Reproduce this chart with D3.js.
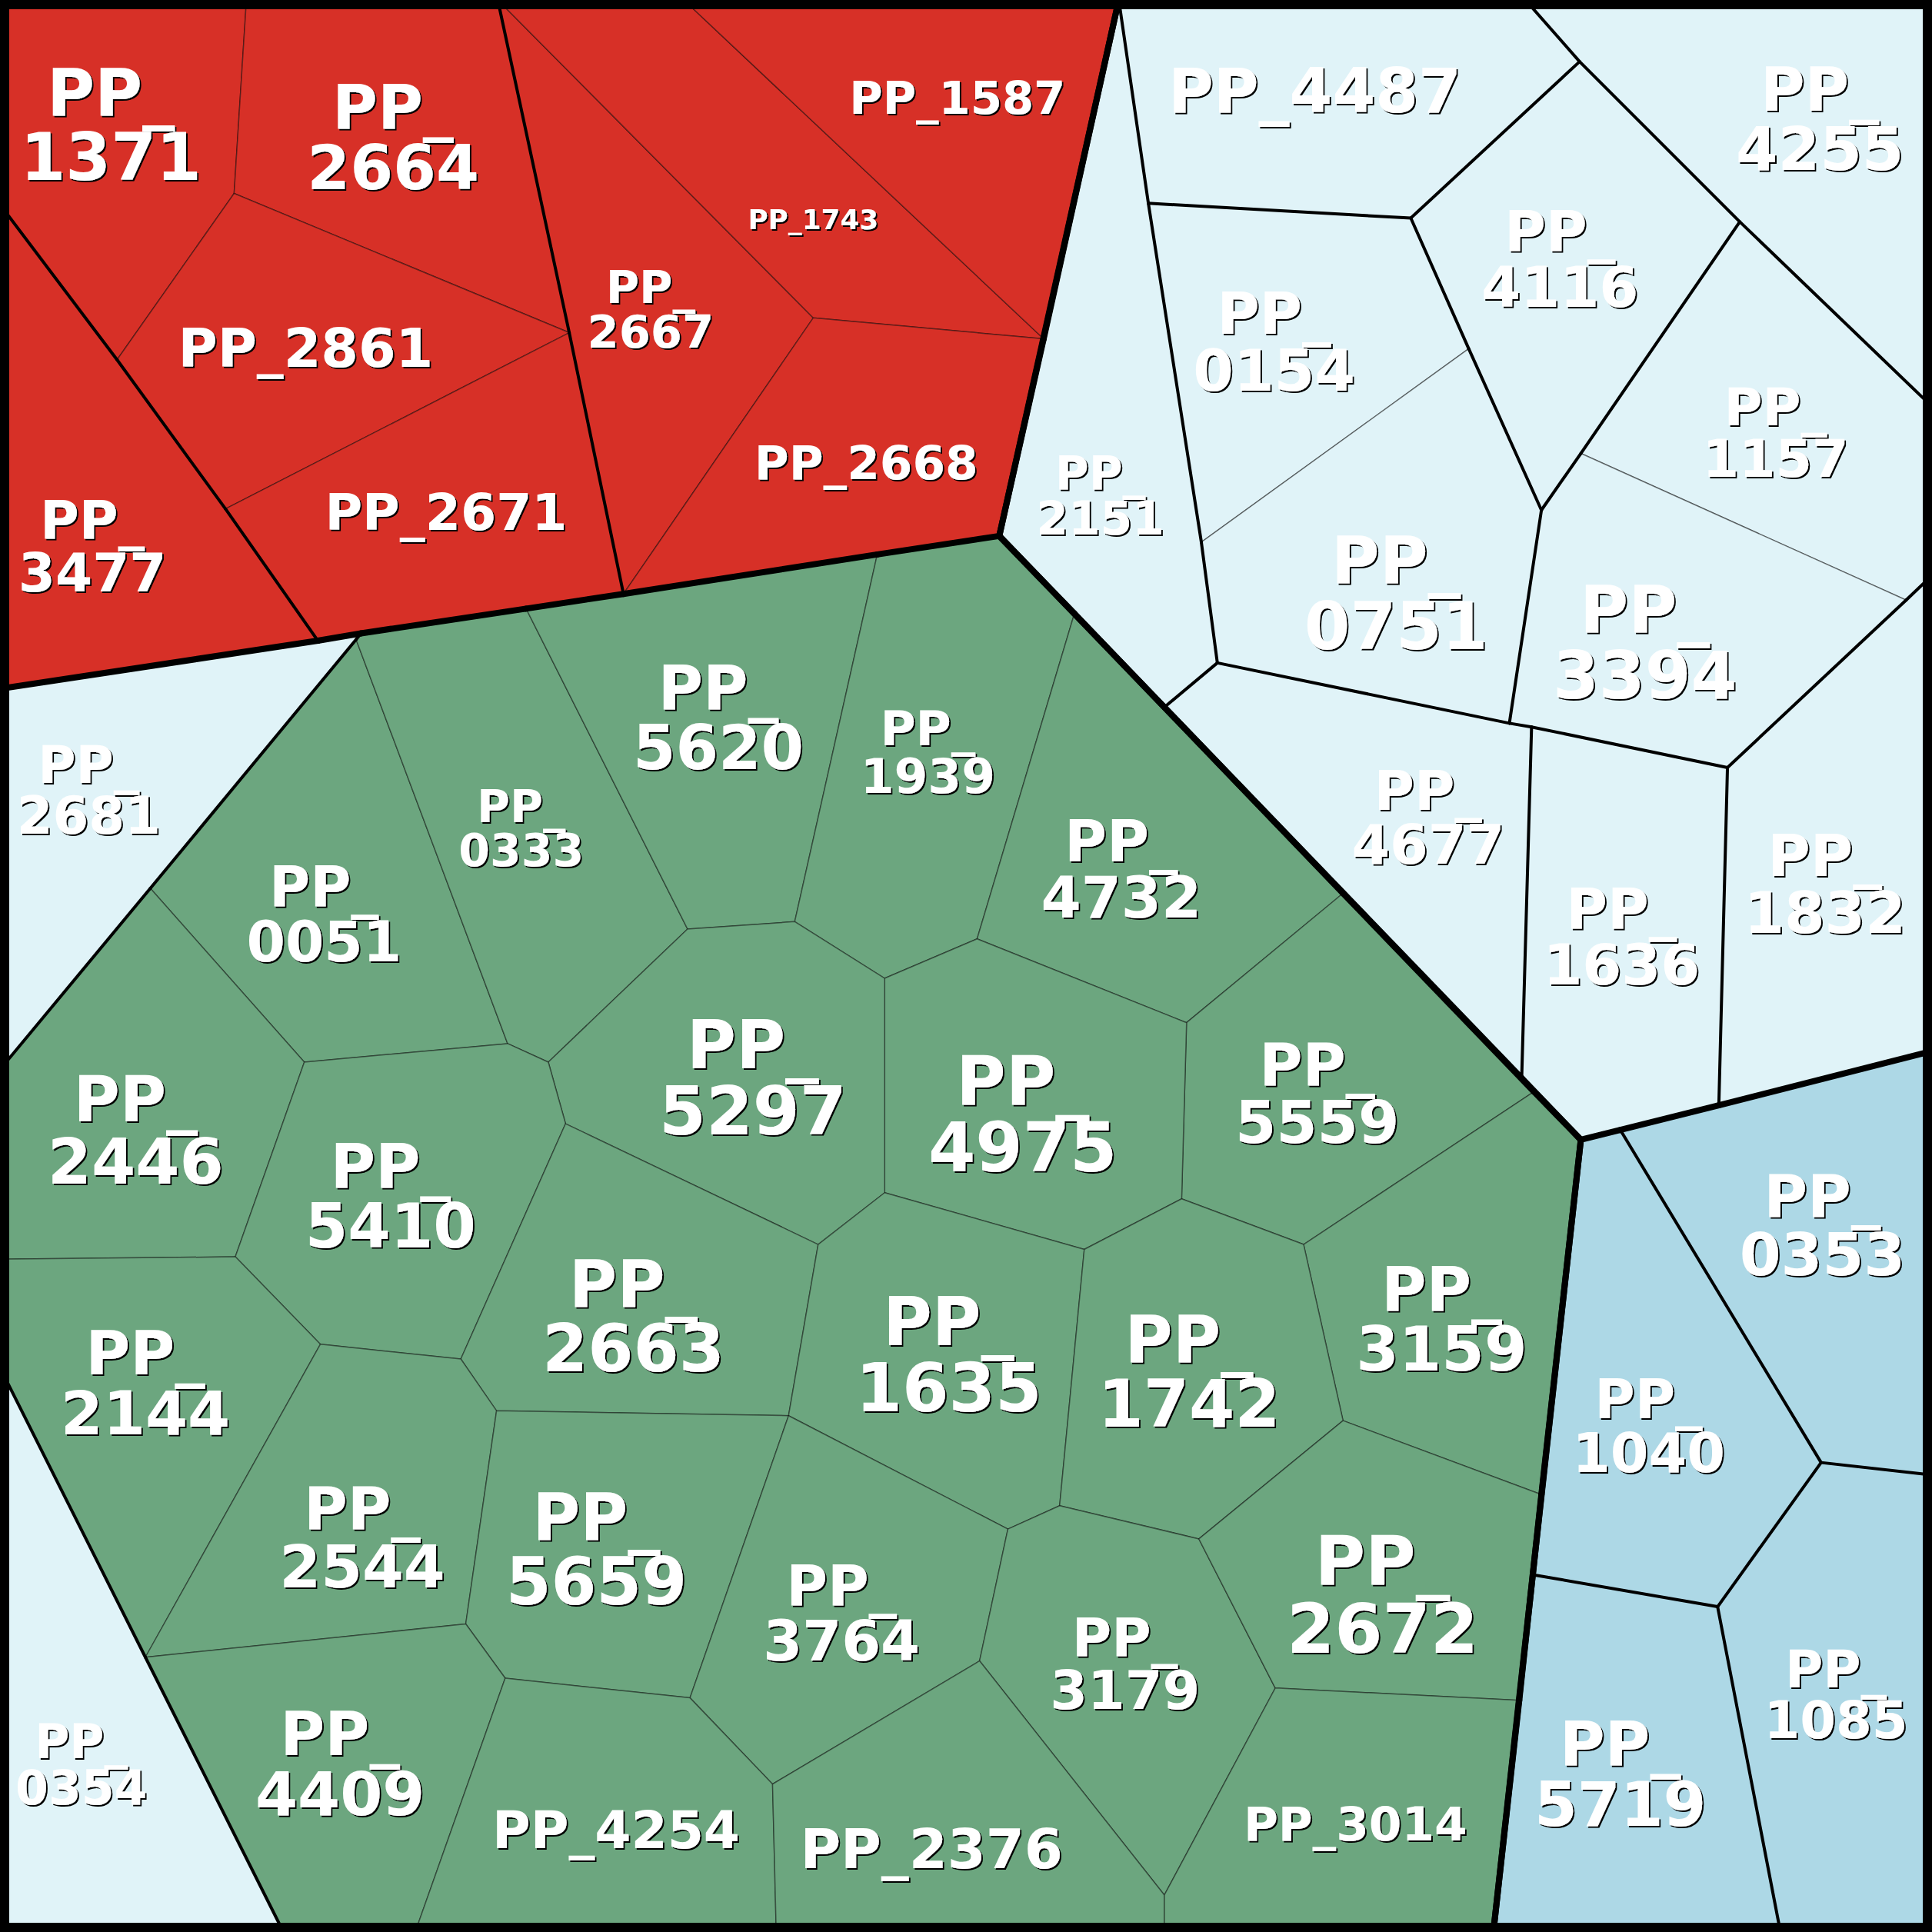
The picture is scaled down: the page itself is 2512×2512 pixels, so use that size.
<!DOCTYPE html>
<html>
<head>
<meta charset="utf-8">
<script src="https://cdn.jsdelivr.net/npm/d3@7"></script>
<style>
  body { margin: 0; background: #fff; }
  text { font-family: "DejaVu Sans", sans-serif; font-weight: bold; }
</style>
</head>
<body>
<svg id="chart" width="2512" height="2512"></svg>
<script>
// vertices of the voronoi treemap, in plot units (0..1568 both ways)
const nodes = {
  TL:[0,0], b:[200,0], c:[404,0], d:[555,0], e:[908,0], u:[1238,0], TR:[1568,0],
  x1:[1568,330], D:[1568,467], R3:[1568,853], O:[1568,1197], BR:[1568,1568],
  R:[1445,1568], B2:[1212,1568], B3:[945,1568], B4:[630,1568], B5:[337,1568], B6:[230,1568], BL:[0,1568],
  L1:[0,1110], L2:[0,1022], L3:[0,868], o:[0,559], a:[0,166],
  f:[190,157], g:[95,292], h:[462,270], i:[183,413], j:[258,520], k:[506,482],
  l:[660,258], m:[847,275], n:[811,435], p:[293,514], q:[427,494], r:[712,450],
  s:[932,165], t:[1145,177], v:[1282,50], w:[1412,180], y1:[1192,283], z:[975,440],
  A:[1251,414], B:[1283,368], C:[1547,487], E:[988,538], F:[945,574], G:[1225,587],
  H:[1243,590], I:[1402,623], J:[1235,875], K:[1283,925], L:[1315,917], M:[1395,897],
  N:[1478,1187], P:[1394,1304], Q:[1244,1278],
  pA:[289,519], S:[872,498], T:[1090,725], U:[1245,886], V:[122,721],
  W:[247,862], X:[412,847], Y:[445,862], Z:[558,754], AA:[645,748], AB:[718,794],
  AC:[793,762], AD:[963,830], AE:[959,973], AF:[1058,1010], AG:[1090,1153],
  AH:[1251,1213], AI:[973,1249], AJ:[1035,1370], AK:[1233,1380], AL:[945,1538],
  AM:[795,1348], AN:[818,1241], AO:[860,1222], AP:[880,1014], AQ:[718,968],
  AR:[664,1010], AS:[459,912], AT:[640,1149], AU:[403,1145], AV:[374,1103],
  AW:[260,1091], AX:[191,1020], AY:[378,1318], AZ:[410,1362], BA:[560,1378],
  BB:[627,1448], BC:[118,1345]
};

// each cell: its generator site, its value and its ring of vertices
const redCells = [
  {id:"PP_1371", sub:"r2", value:71.6, site:[90,101],  ring:["TL","b","f","g","a"]},
  {id:"PP_2664", sub:"r2", value:64.5, site:[319,111], ring:["b","c","h","f"]},
  {id:"PP_2861", sub:"r2", value:48.8, site:[248,282], ring:["g","f","h","i"]},
  {id:"PP_2671", sub:"r2", value:44.0, site:[362,415], ring:["i","h","k","q","p","j"]},
  {id:"PP_3477", sub:"r1", value:48.0, site:[75,443],  ring:["a","g","i","j","o"]},
  {id:"PP_2667", sub:"r3", value:35.0, site:[528,251], ring:["c","l","k","h"]},
  {id:"PP_1743", sub:"r3", value:12.8, site:[660,178], ring:["c","d","m","l"]},
  {id:"PP_1587", sub:"r3", value:35.0, site:[777,79],  ring:["d","e","m"]},
  {id:"PP_2668", sub:"r3", value:37.5, site:[703,375], ring:["l","m","n","r","k"]}
];

const greenCells = [
  {id:"PP_2681", sub:"g1", cat:"pale", value:45.2, site:[72,641],   ring:["o","j","p","pA","V","L3"]},
  {id:"PP_0354", sub:"g2", cat:"pale", value:37.9, site:[66,1432],  ring:["L1","BC","B6","BL"]},
  {id:"PP_0051", sub:"g3", value:52.6, site:[263,742],  ring:["pA","X","W","V"]},
  {id:"PP_0333", sub:"g3", value:34.3, site:[423,672],  ring:["p","q","Z","Y","X","pA"]},
  {id:"PP_5620", sub:"g3", value:63.7, site:[583,582],  ring:["q","k","r","AA","Z"]},
  {id:"PP_1939", sub:"g3", value:39.7, site:[753,610],  ring:["r","n","S","AC","AB","AA"]},
  {id:"PP_4732", sub:"g3", value:56.3, site:[910,705],  ring:["S","T","AD","AC"]},
  {id:"PP_5559", sub:"g3", value:58.8, site:[1069,887], ring:["T","U","AF","AE","AD"]},
  {id:"PP_3159", sub:"g3", value:63.7, site:[1170,1070], ring:["U","K","AH","AG","AF"]},
  {id:"PP_4975", sub:"g3", value:77.8, site:[830,904],  ring:["AB","AC","AD","AE","AP","AQ"]},
  {id:"PP_5297", sub:"g3", value:76.7, site:[611,874],  ring:["Z","AA","AB","AQ","AR","AS","Y"]},
  {id:"PP_2446", sub:"g3", value:67.6, site:[110,917],  ring:["L3","V","W","AX","L2"]},
  {id:"PP_5410", sub:"g3", value:63.7, site:[317,970],  ring:["W","X","Y","AS","AV","AW","AX"]},
  {id:"PP_2144", sub:"g3", value:62.7, site:[118,1122], ring:["L2","AX","AW","BC","L1"]},
  {id:"PP_2663", sub:"g3", value:72.4, site:[514,1068], ring:["AS","AR","AT","AU","AV"]},
  {id:"PP_1635", sub:"g3", value:75.7, site:[770,1099], ring:["AR","AQ","AP","AO","AN","AT"]},
  {id:"PP_1742", sub:"g3", value:72.4, site:[965,1113], ring:["AP","AE","AF","AG","AI","AO"]},
  {id:"PP_2544", sub:"g3", value:59.9, site:[294,1247], ring:["AW","AV","AU","AY","BC"]},
  {id:"PP_5659", sub:"g3", value:71.6, site:[484,1257], ring:["AU","AT","BA","AZ","AY"]},
  {id:"PP_3764", sub:"g3", value:53.6, site:[683,1309], ring:["AT","AN","AM","BB","BA"]},
  {id:"PP_3179", sub:"g3", value:49.1, site:[913,1350], ring:["AN","AO","AI","AJ","AL","AM"]},
  {id:"PP_2672", sub:"g3", value:80.1, site:[1122,1294], ring:["AG","AH","AK","AJ","AI"]},
  {id:"PP_4409", sub:"g3", value:62.7, site:[276,1431], ring:["BC","AY","AZ","B5","B6"]},
  {id:"PP_4254", sub:"g3", value:46.0, site:[500,1485], ring:["AZ","BA","BB","B4","B5"]},
  {id:"PP_2376", sub:"g3", value:51.7, site:[756,1500], ring:["BB","AM","AL","B3","B4"]},
  {id:"PP_3014", sub:"g3", value:37.5, site:[1100,1480], ring:["AJ","AK","B2","B3","AL"]}
];

const paleCells = [
  {id:"PP_4487", sub:"p1", value:64.3, site:[1067,73],  ring:["e","u","v","t","s"]},
  {id:"PP_4255", sub:"p2", value:61.6, site:[1477,96],  ring:["u","TR","x1","w","v"]},
  {id:"PP_4116", sub:"p3", value:54.0, site:[1266,210], ring:["v","w","B","A","y1","t"]},
  {id:"PP_0154", sub:"p4", value:57.2, site:[1034,277], ring:["s","t","y1","z"]},
  {id:"PP_0751", sub:"p4", value:73.6, site:[1133,481], ring:["z","y1","A","G","E"]},
  {id:"PP_1157", sub:"p5", value:46.6, site:[1441,351], ring:["w","x1","D","C","B"]},
  {id:"PP_3394", sub:"p5", value:74.1, site:[1335,521], ring:["B","C","I","H","G","A"]},
  {id:"PP_2151", sub:"p6", value:35.9, site:[893,402],  ring:["e","s","z","E","F","n"]},
  {id:"PP_4677", sub:"p7", value:51.0, site:[1159,663], ring:["F","E","G","H","J"]},
  {id:"PP_1636", sub:"p8", value:53.6, site:[1316,760], ring:["H","I","M","L","K","J"]},
  {id:"PP_1832", sub:"p9", value:57.2, site:[1481,717], ring:["I","C","D","R3","M"]}
];

const blueCells = [
  {id:"PP_0353", sub:"b1", value:59.9, site:[1479,994],  ring:["L","M","R3","O","N"]},
  {id:"PP_1040", sub:"b2", value:51.0, site:[1338,1157], ring:["K","L","N","P","Q"]},
  {id:"PP_5719", sub:"b3", value:64.5, site:[1315,1439], ring:["Q","P","R","B2"]},
  {id:"PP_1085", sub:"b4", value:45.2, site:[1490,1375], ring:["P","N","O","BR","R"]}
];

// labels short enough to stay on one line
const singleLine = ["PP_2861","PP_2671","PP_1587","PP_1743","PP_2668","PP_4487","PP_4254","PP_2376","PP_3014"];

const W = 2512, H = 2512;
const x = d3.scaleLinear().domain([0, 1568]).range([0, W]);
const y = d3.scaleLinear().domain([0, 1568]).range([0, H]);
const fill = d3.scaleOrdinal().domain(["red","green","pale","blue"])
  .range(["#d73027","#6ca67f","#e0f3f8","#add8e6"]);
const fontSize = d3.scaleSqrt().domain([0, 100]).range([0, 100]);

const cells = [
  ...redCells.map(c => ({...c, group:"red", cat:"red"})),
  ...greenCells.map(c => ({...c, group:"green", cat:c.cat || "green"})),
  ...paleCells.map(c => ({...c, group:"pale", cat:"pale"})),
  ...blueCells.map(c => ({...c, group:"blue", cat:"blue"}))
];
cells.forEach(c => { c.pts = c.ring.map(id => [x(nodes[id][0]), y(nodes[id][1])]); });

const svg = d3.select("#chart");

svg.append("defs").append("filter")
    .attr("id", "shadow")
    .attr("x", "-10%").attr("y", "-10%").attr("width", "120%").attr("height", "120%")
  .append("feDropShadow")
    .attr("dx", 2).attr("dy", 2).attr("stdDeviation", 0.4)
    .attr("flood-color", "#000").attr("flood-opacity", 1);

svg.append("g").selectAll("path")
  .data(cells)
  .join("path")
    .attr("d", c => "M" + c.pts.join("L") + "Z")
    .attr("fill", c => fill(c.cat))
    .attr("stroke", "rgba(0,0,0,0.45)")
    .attr("stroke-width", 1.5)
    .attr("stroke-linejoin", "round");

// border weight from what lies on the other side of each edge
const onBorder = (a, b) => (a[0] === b[0] && (a[0] === 0 || a[0] === W)) || (a[1] === b[1] && (a[1] === 0 || a[1] === H));
const seen = new Set();
const edges = [];
cells.forEach(c => {
  c.ring.forEach((id, k) => {
    const id2 = c.ring[(k + 1) % c.ring.length];
    const key = [id, id2].sort().join("|");
    if (seen.has(key)) return;
    seen.add(key);
    const p0 = c.pts[k], p1 = c.pts[(k + 1) % c.pts.length];
    if (onBorder(p0, p1)) return;
    const mx = (p0[0] + p1[0]) / 2, my = (p0[1] + p1[1]) / 2;
    const len = Math.hypot(p1[0] - p0[0], p1[1] - p0[1]);
    const nx = -(p1[1] - p0[1]) / len * 4, ny = (p1[0] - p0[0]) / len * 4;
    let other = null;
    [[mx + nx, my + ny], [mx - nx, my - ny]].forEach(tp => {
      const hit = cells.find(o => o !== c && d3.polygonContains(o.pts, tp));
      if (hit) other = hit;
    });
    if (!other) return;
    let w = 0;
    if (other.group !== c.group) w = 8;
    else if (other.sub !== c.sub) w = 4;
    if (w) edges.push({p0, p1, w});
  });
});
edges.sort((a, b) => a.w - b.w);

svg.append("g").selectAll("line")
  .data(edges)
  .join("line")
    .attr("x1", e => e.p0[0]).attr("y1", e => e.p0[1])
    .attr("x2", e => e.p1[0]).attr("y2", e => e.p1[1])
    .attr("stroke", "#000")
    .attr("stroke-width", e => e.w)
    .attr("stroke-linecap", "round");

// labels, white with a small dark drop shadow
const labels = svg.append("g").attr("filter", "url(#shadow)");
cells.forEach(c => {
  const cx = x(c.site[0]), cy = y(c.site[1]);
  const fs = fontSize(c.value);
  const t = labels.append("text")
    .attr("text-anchor", "middle")
    .attr("font-size", fs)
    .attr("fill", "#fff");
  if (singleLine.includes(c.id)) {
    t.attr("x", cx).attr("y", cy + 0.36 * fs).text(c.id);
  } else {
    const parts = c.id.split("_");
    t.append("tspan").attr("x", cx).attr("y", cy - 0.13 * fs).text(parts[0] + "_");
    t.append("tspan").attr("x", cx).attr("y", cy + 0.85 * fs).text(parts[1]);
  }
});

svg.append("rect")
  .attr("x", 0).attr("y", 0).attr("width", W).attr("height", H)
  .attr("fill", "none").attr("stroke", "#000").attr("stroke-width", 24);
</script>
</body>
</html>
